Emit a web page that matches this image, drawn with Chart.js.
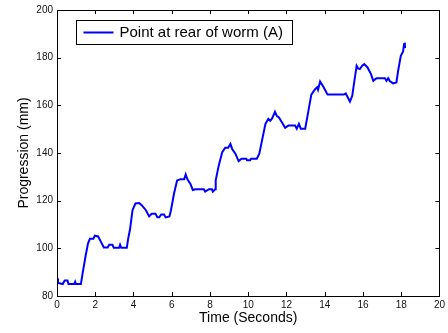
<!DOCTYPE html>
<html>
<head>
<meta charset="utf-8">
<script src="https://cdn.jsdelivr.net/npm/chart.js@4/dist/chart.umd.min.js"></script>
<style>
  html, body { margin: 0; padding: 0; background: #fff; }
  canvas { display: block; }
</style>
</head>
<body>
<canvas id="wormChart" width="448" height="333"></canvas>
<script>
// time in seconds
const times = [0, 0.05, 0.3, 0.4, 0.55, 0.6, 0.9, 0.95, 1.0, 1.25, 1.35, 1.5, 1.62, 1.72, 1.9, 1.98, 2.15, 2.3, 2.45, 2.65,
  2.73, 2.9, 2.97, 3.25, 3.3, 3.36, 3.65, 3.72, 3.82, 3.95, 4.1, 4.3, 4.44, 4.65, 4.82, 4.95, 5.15, 5.25, 5.35, 5.45,
  5.6, 5.68, 5.88, 5.96, 6.12, 6.28, 6.45, 6.65, 6.73, 6.82, 6.98, 7.1, 7.25, 7.68, 7.75, 7.95, 8.1, 8.15, 8.27, 8.3,
  8.46, 8.64, 8.8, 8.95, 9.07, 9.16, 9.33, 9.5, 9.65, 9.9, 9.94, 10.1, 10.15, 10.45, 10.58, 10.72, 10.9, 11.05, 11.15, 11.25,
  11.4, 11.5, 11.6, 11.76, 11.93, 12.1, 12.45, 12.54, 12.65, 12.75, 12.98, 13.15, 13.3, 13.5, 13.6, 13.65, 13.76, 13.93, 14.15, 15.0,
  15.1, 15.23, 15.32, 15.44, 15.58, 15.67, 15.75, 15.84, 15.96, 16.07, 16.24, 16.42, 16.54, 16.71, 17.15, 17.23, 17.32, 17.4, 17.58, 17.75,
  17.84, 17.98, 18.1, 18.15, 18.19, 18.2];

// progression in mm
const progression = [87.5, 85.5, 85, 86.5, 86.5, 85, 85, 86, 85, 85, 90, 97, 102, 104, 104, 105.3, 105, 102.7, 100.4, 100.4,
  101.5, 101.5, 100.2, 100.2, 101.5, 100.2, 100.2, 104, 108, 116, 118.8, 119, 118, 116, 113.4, 114.5, 114.5, 113, 113, 114.2,
  114.2, 113, 113.4, 116, 123, 128.5, 129, 129, 131, 129, 127, 124.5, 124.8, 124.8, 123.8, 124.8, 124.8, 123.8, 124.8, 128.5,
  134.8, 140.3, 142.2, 142.2, 143.8, 141.7, 139.7, 136.6, 137.6, 137.6, 137, 137, 137.6, 137.6, 139.7, 145.2, 152.2, 154.3, 153.5, 154.5,
  157.3, 155.5, 155, 152.9, 150.6, 151.5, 151.5, 150.2, 152.2, 150.2, 150.2, 157.8, 164.5, 166.8, 167.6, 166.5, 170, 167.8, 164.5, 164.5,
  165, 163, 161.6, 164, 171.7, 176.6, 175.5, 175.2, 176.6, 177.3, 175.9, 173.1, 170.3, 171.4, 171.4, 170.3, 171.4, 170.2, 169.2, 169.6,
  174.5, 180.8, 182.6, 185.6, 186.3, 184];

const seriesName = 'Point at rear of worm (A)';
const xTitle = 'Time (Seconds)';
const yTitle = 'Progression (mm)';
const xRange = [0, 20, 2];
const yRange = [80, 200, 20];

const FONT = "'Liberation Sans', Arial, Helvetica, sans-serif";

// matlab style box, inward ticks and boxed legend
const matlabFrame = {
  id: 'matlabFrame',
  afterDraw(chart) {
    const ctx = chart.ctx;
    const area = chart.chartArea;
    const xs = chart.scales.x, ys = chart.scales.y;
    const tl = 4;
    ctx.save();
    ctx.strokeStyle = '#000';
    ctx.lineWidth = 1;
    ctx.beginPath();
    xs.ticks.forEach(t => {
      const px = Math.round(xs.getPixelForValue(t.value)) + 0.5;
      ctx.moveTo(px, area.bottom); ctx.lineTo(px, area.bottom - tl);
      ctx.moveTo(px, area.top); ctx.lineTo(px, area.top + tl);
    });
    ys.ticks.forEach(t => {
      const py = Math.round(ys.getPixelForValue(t.value)) + 0.5;
      ctx.moveTo(area.left, py); ctx.lineTo(area.left + tl, py);
      ctx.moveTo(area.right, py); ctx.lineTo(area.right - tl, py);
    });
    ctx.stroke();
    ctx.strokeRect(Math.round(area.left) + 0.5, Math.round(area.top) + 0.5,
      Math.round(area.right - area.left), Math.round(area.bottom - area.top));

    // legend
    const ds = chart.data.datasets[0];
    ctx.font = '15px ' + FONT;
    const tw = ctx.measureText(ds.label).width;
    const bx = Math.round(area.left) + 19.5, by = Math.round(area.top) + 10.5;
    const bw = Math.round(43 + tw + 10), bh = 24;
    ctx.fillStyle = '#fff';
    ctx.fillRect(bx, by, bw, bh);
    ctx.strokeStyle = '#000';
    ctx.strokeRect(bx, by, bw, bh);
    ctx.strokeStyle = ds.borderColor;
    ctx.lineWidth = 2;
    ctx.beginPath();
    ctx.moveTo(bx + 7, by + bh / 2);
    ctx.lineTo(bx + 37, by + bh / 2);
    ctx.stroke();
    ctx.fillStyle = '#000';
    ctx.textBaseline = 'middle';
    ctx.fillText(ds.label, bx + 43, by + bh / 2 + 0.5);
    ctx.restore();
  }
};

new Chart(document.getElementById('wormChart'), {
  type: 'line',
  data: {
    datasets: [{
      label: seriesName,
      data: times.map((t, i) => ({ x: t, y: progression[i] })),
      borderColor: '#0000ff',
      borderWidth: 2,
      pointRadius: 0,
      tension: 0,
      fill: false
    }]
  },
  options: {
    responsive: false,
    animation: false,
    layout: { padding: { top: 9, right: 6, left: 0, bottom: 0 } },
    plugins: {
      legend: { display: false },
      tooltip: { enabled: false }
    },
    scales: {
      x: {
        type: 'linear',
        min: xRange[0],
        max: xRange[1],
        grid: { display: false, drawTicks: false },
        border: { display: false },
        ticks: { stepSize: xRange[2], padding: 3, color: '#111', font: { size: 10, family: FONT } },
        title: { display: true, text: xTitle, color: '#000', font: { size: 14, family: FONT }, padding: { top: 0, bottom: 6 } },
        afterFit(scale) { scale.height = 37; }
      },
      y: {
        min: yRange[0],
        max: yRange[1],
        grid: { display: false, drawTicks: false },
        border: { display: false },
        ticks: { stepSize: yRange[2], padding: 4, color: '#111', font: { size: 10, family: FONT } },
        title: { display: true, text: yTitle, color: '#000', font: { size: 14, family: FONT }, padding: { top: 15.6, bottom: 0 } },
        afterFit(scale) { scale.width = 57; }
      }
    }
  },
  plugins: [matlabFrame]
});
</script>
</body>
</html>
